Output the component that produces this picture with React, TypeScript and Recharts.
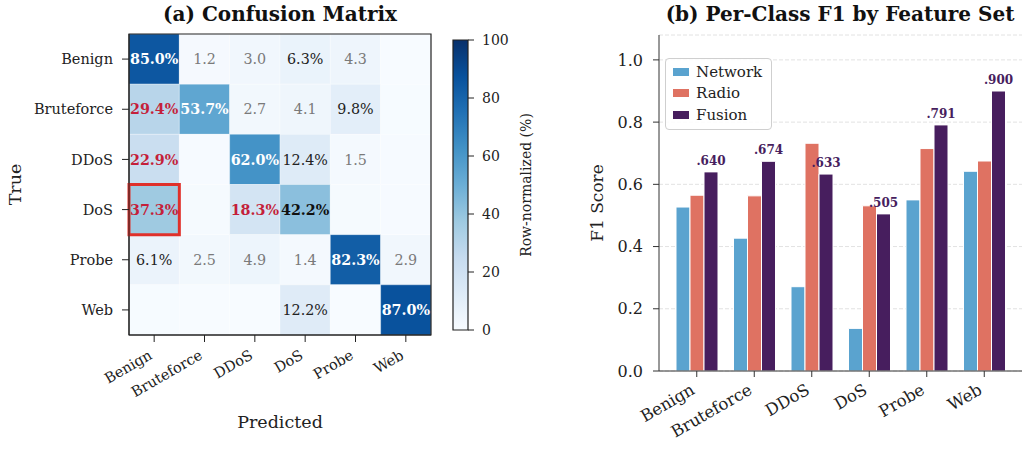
import React from 'react';
import {
  ScatterChart,
  Scatter,
  ComposedChart,
  BarChart,
  Bar,
  XAxis,
  YAxis,
  CartesianGrid,
  ReferenceArea,
  Legend,
  LabelList,
} from 'recharts';

const FONT = '"DejaVu Serif", serif';

// Class names shared by both panels
const classes = ['Benign', 'Bruteforce', 'DDoS', 'DoS', 'Probe', 'Web'];

// Row-normalized confusion matrix (%): one array per true class, columns = predicted class
const benignRow = [85.0, 1.2, 3.0, 6.3, 4.3, 0.2];
const bruteforceRow = [29.4, 53.7, 2.7, 4.1, 9.8, 0.3];
const ddosRow = [22.9, 0.7, 62.0, 12.4, 1.5, 0.5];
const dosRow = [37.3, 0.8, 18.3, 42.2, 0.9, 0.5];
const probeRow = [6.1, 2.5, 4.9, 1.4, 82.3, 2.9];
const webRow = [0.3, 0.2, 0.1, 12.2, 0.2, 87.0];
const matrixRows = [benignRow, bruteforceRow, ddosRow, dosRow, probeRow, webRow];

// Highlighted cell (true DoS predicted as Benign)
const highlightRow = 3;
const highlightCol = 0;

const colorbarTicks = [0, 20, 40, 60, 80, 100];

// Per-class F1 scores by feature set
const featureSets = ['Network', 'Radio', 'Fusion'];
const networkF1 = [0.527, 0.427, 0.271, 0.137, 0.55, 0.642];
const radioF1 = [0.565, 0.563, 0.732, 0.531, 0.715, 0.675];
const fusionF1 = [0.64, 0.674, 0.633, 0.505, 0.791, 0.9];
const f1Ticks = [0, 0.2, 0.4, 0.6, 0.8, 1.0];

const NETWORK_COLOR = '#5aa3cf';
const RADIO_COLOR = '#df7262';
const FUSION_COLOR = '#471e5e';
const RED = '#c41f3a';

// matplotlib "Blues" colormap anchor colours
const bluesStops = ['#f7fbff', '#deebf7', '#c6dbef', '#9ecae1', '#6baed6', '#4292c6', '#2171b5', '#08519c', '#08306b'];

function hexToRgb(h: string) {
  return [1, 3, 5].map((i) => parseInt(h.slice(i, i + 2), 16));
}

function blues(t: number) {
  const c = Math.max(0, Math.min(1, t));
  const p = c * (bluesStops.length - 1);
  const i = Math.min(bluesStops.length - 2, Math.floor(p));
  const f = p - i;
  const a = hexToRgb(bluesStops[i]);
  const b = hexToRgb(bluesStops[i + 1]);
  const m = a.map((v, k) => Math.round(v + (b[k] - v) * f));
  return `rgb(${m[0]},${m[1]},${m[2]})`;
}

const cells = matrixRows.flatMap((row, r) => row.map((value, c) => ({ row: r, col: c, value })));

const f1Data = classes.map((cls, i) => ({
  cls,
  network: networkF1[i],
  radio: radioF1[i],
  fusion: fusionF1[i],
}));

const renderCellText = (props: any) => {
  const { cx, cy, payload } = props;
  const v: number = payload.value;
  if (v < 1) return <g />;
  const diag = payload.row === payload.col;
  let fill = '#222';
  let weight: any = 'normal';
  const text = v >= 5 ? `${v.toFixed(1)}%` : v.toFixed(1);
  if (diag) {
    weight = 'bold';
    fill = v > 50 ? '#ffffff' : '#111';
  } else if (v >= 15) {
    weight = 'bold';
    fill = RED;
  } else if (v < 5) {
    fill = '#7a7a7a';
  }
  return (
    <text x={cx} y={cy} dy="0.36em" textAnchor="middle" fontFamily={FONT} fontSize={14.3} fontWeight={weight} fill={fill}>
      {text}
    </text>
  );
};

const makeRotatedTick = (fontSize: number, dx: number, dy: number, numeric: boolean) => (props: any) => {
  const { x, y, payload } = props;
  const label = numeric ? classes[payload.value] : payload.value;
  return (
    <g transform={`translate(${x + dx},${y + dy})`}>
      <text x={0} y={0} textAnchor="end" transform="rotate(-30)" fontFamily={FONT} fontSize={fontSize} fill="#222">
        {label}
      </text>
    </g>
  );
};

const titleStyle: React.CSSProperties = {
  position: 'absolute',
  top: 2,
  fontFamily: FONT,
  fontWeight: 'bold',
  fontSize: 20,
  lineHeight: '24px',
  color: '#111',
  textAlign: 'center',
  whiteSpace: 'nowrap',
};

const renderLegend = (props: any) => {
  const items = [...(props.payload || [])].sort(
    (a: any, b: any) => featureSets.indexOf(a.value) - featureSets.indexOf(b.value)
  );
  return (
    <div
      style={{
        border: '1px solid #cfcfcf',
        borderRadius: 4,
        background: 'rgba(255,255,255,0.85)',
        padding: '2px 9px 3px 7px',
        fontFamily: FONT,
        fontSize: 15,
        color: '#222',
      }}
    >
      {items.map((item: any) => (
        <div key={item.value} style={{ display: 'flex', alignItems: 'center', height: 21.5 }}>
          <span style={{ display: 'inline-block', width: 16, height: 8, background: item.color, marginRight: 7 }} />
          <span>{item.value}</span>
        </div>
      ))}
    </div>
  );
};

export default function App() {
  const axisTickStyle = { fontFamily: FONT, fontSize: 14.5, fill: '#222' };
  return (
    <div style={{ position: 'absolute', left: 0, top: 0, width: 1029, height: 450, background: '#fff', overflow: 'hidden' }}>
      <div style={{ ...titleStyle, left: 80, width: 400 }}>(a) Confusion Matrix</div>
      <div style={{ ...titleStyle, left: 640, width: 400 }}>(b) Per-Class F1 by Feature Set</div>

      {/* Confusion matrix heatmap */}
      <div style={{ position: 'absolute', left: 0, top: 0 }}>
        <ScatterChart width={440} height={450} margin={{ top: 34, right: 9, bottom: 0, left: 0 }}>
          <XAxis
            type="number"
            dataKey="col"
            domain={[-0.5, 5.5]}
            ticks={[0, 1, 2, 3, 4, 5]}
            interval={0}
            height={115}
            tickSize={7}
            axisLine={{ stroke: '#222' }}
            tickLine={{ stroke: '#222' }}
            tick={makeRotatedTick(14.5, -1, 14, true)}
            label={{ value: 'Predicted', position: 'insideBottom', offset: 22, style: { fontFamily: FONT, fontSize: 17.5, fill: '#222' } }}
          />
          <YAxis
            type="number"
            dataKey="row"
            domain={[-0.5, 5.5]}
            ticks={[0, 1, 2, 3, 4, 5]}
            interval={0}
            reversed
            width={129}
            tickSize={7}
            tickMargin={9}
            axisLine={{ stroke: '#222' }}
            tickLine={{ stroke: '#222' }}
            tick={axisTickStyle}
            tickFormatter={(v: number) => classes[v]}
            label={{ value: 'True', angle: -90, position: 'insideLeft', offset: 15, style: { textAnchor: 'middle', fontFamily: FONT, fontSize: 17.5, fill: '#222' } }}
          />
          {cells.map((c) => (
            <ReferenceArea
              key={`cell-${c.row}-${c.col}`}
              x1={c.col - 0.5}
              x2={c.col + 0.5}
              y1={c.row - 0.5}
              y2={c.row + 0.5}
              fill={blues(c.value / 100)}
              fillOpacity={1}
              stroke="#ffffff"
              strokeWidth={0.5}
              strokeOpacity={0.6}
            />
          ))}
          <ReferenceArea x1={-0.5} x2={5.5} y1={-0.5} y2={5.5} fill="none" stroke="#222" strokeWidth={1.2} />
          <Scatter data={cells} isAnimationActive={false} shape={renderCellText} />
          <ReferenceArea
            x1={highlightCol - 0.5}
            x2={highlightCol + 0.5}
            y1={highlightRow - 0.5}
            y2={highlightRow + 0.5}
            fill="none"
            stroke="#e0302a"
            strokeWidth={3}
          />
        </ScatterChart>
      </div>

      {/* Colour bar */}
      <div style={{ position: 'absolute', left: 440, top: 0 }}>
        <ComposedChart width={110} height={450} data={[{ x: 0.5, y: 50 }]} margin={{ top: 40, right: 0, bottom: 120, left: 13 }}>
          <defs>
            <linearGradient id="bluesGradient" x1="0" y1="1" x2="0" y2="0">
              {bluesStops.map((c, i) => (
                <stop key={c} offset={`${(i / (bluesStops.length - 1)) * 100}%`} stopColor={c} />
              ))}
            </linearGradient>
          </defs>
          <XAxis type="number" dataKey="x" domain={[0, 1]} hide height={0} />
          <YAxis
            type="number"
            dataKey="y"
            orientation="right"
            domain={[0, 100]}
            ticks={colorbarTicks}
            interval={0}
            width={82}
            tickSize={6}
            tickMargin={8}
            axisLine={false}
            tickLine={{ stroke: '#222' }}
            tick={{ fontFamily: FONT, fontSize: 14, fill: '#222', textAnchor: 'start' }}
            label={{ value: 'Row-normalized (%)', angle: -90, position: 'insideRight', offset: 24, style: { textAnchor: 'middle', fontFamily: FONT, fontSize: 14, fill: '#222' } }}
          />
          <ReferenceArea x1={0} x2={1} y1={0} y2={100} fill="url(#bluesGradient)" fillOpacity={1} stroke="#222" strokeWidth={1.2} />
        </ComposedChart>
      </div>

      {/* Per-class F1 grouped bars */}
      <div style={{ position: 'absolute', left: 560, top: 0 }}>
        <BarChart
          width={469}
          height={450}
          data={f1Data}
          margin={{ top: 35, right: 7, bottom: 0, left: 0 }}
          barSize={14}
          barGap={0}
        >
          <CartesianGrid vertical={false} stroke="#e2e2e2" strokeDasharray="4 2" />
          <XAxis
            dataKey="cls"
            height={79}
            interval={0}
            padding={{ left: 9, right: 9 }}
            tickSize={6}
            axisLine={{ stroke: '#333' }}
            tickLine={{ stroke: '#333' }}
            tick={makeRotatedTick(16.5, -1, 14, false)}
          />
          <YAxis
            type="number"
            domain={[0, 1.08]}
            ticks={f1Ticks}
            interval={0}
            width={99}
            tickSize={6}
            tickMargin={10}
            axisLine={{ stroke: '#333' }}
            tickLine={{ stroke: '#333' }}
            tick={{ fontFamily: FONT, fontSize: 16, fill: '#222' }}
            tickFormatter={(v: number) => v.toFixed(1)}
            label={{ value: 'F1 Score', angle: -90, position: 'insideLeft', offset: 37, style: { textAnchor: 'middle', fontFamily: FONT, fontSize: 17, fill: '#222' } }}
          />
          <Legend
            layout="vertical"
            align="center"
            verticalAlign="middle"
            content={renderLegend}
            wrapperStyle={{ left: 105, top: 58, width: 'auto', right: 'auto', bottom: 'auto' }}
          />
          <Bar dataKey="network" name="Network" fill={NETWORK_COLOR} stroke="#fff" strokeWidth={1} isAnimationActive={false} />
          <Bar dataKey="radio" name="Radio" fill={RADIO_COLOR} stroke="#fff" strokeWidth={1} isAnimationActive={false} />
          <Bar dataKey="fusion" name="Fusion" fill={FUSION_COLOR} stroke="#fff" strokeWidth={1} isAnimationActive={false}>
            <LabelList
              dataKey="fusion"
              position="top"
              offset={7}
              formatter={(v: any) => Number(v).toFixed(3).replace(/^0/, '')}
              style={{ fontFamily: FONT, fontSize: 12, fontWeight: 'bold', fill: FUSION_COLOR }}
            />
          </Bar>
        </BarChart>
      </div>
    </div>
  );
}
